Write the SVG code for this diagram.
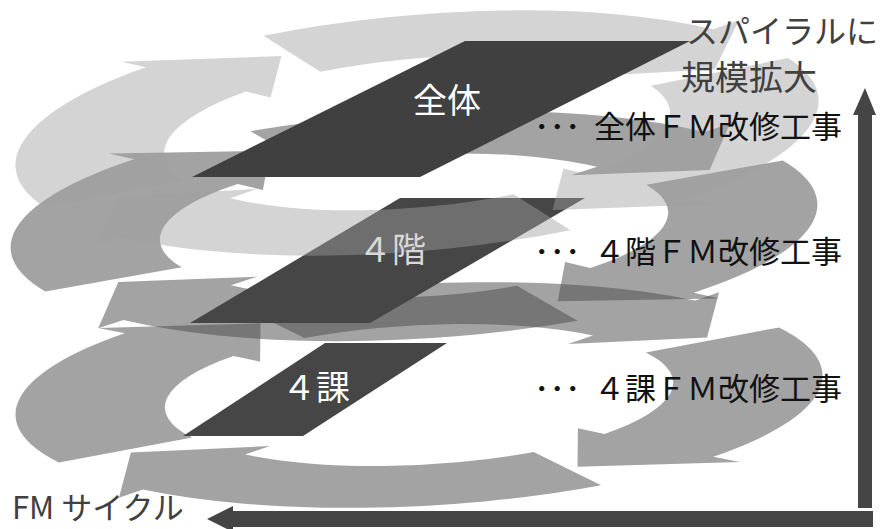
<svg xmlns="http://www.w3.org/2000/svg" xmlns:xlink="http://www.w3.org/1999/xlink" width="884" height="529" viewBox="0 0 884 529">
<style>
  text { font-family: "Noto Sans CJK JP", "Noto Sans", sans-serif; }
  .lt { fill: #a0a0a0; fill-opacity: 0.45; }
  .md { fill: #4b4b4b; fill-opacity: 0.51; }
  .plate { fill: #404040; }
  .plate2 { fill: #464646; }
  .cap { fill: #111111; font-size: 31px; }
  .side { fill: #404040; }
  .axis { fill: #454545; }
</style>
<defs>
  <path id="arw" d="M-92.05,39.07 A100,100 0 0 1 -68.2,-73.14 L-74.34,-79.5 L-34.44,-73.86 L-36.83,-39.49 L-42.97,-46.08 A63,63 0 0 0 -57.99,24.61 Z"/>
</defs>

<g id="ring-middle" transform="translate(414,226) rotate(-3.3) scale(4.04,1.13)">
  <use href="#arw" class="md"/>
  <use href="#arw" class="md" transform="rotate(90)"/>
  <use href="#arw" class="md" transform="rotate(180)"/>
  <use href="#arw" class="md" transform="rotate(270)"/>
</g>
<g id="ring-bottom" transform="translate(419,395) rotate(-3) scale(4.04,1.11)">
  <use href="#arw" class="md" transform="rotate(-3)"/>
  <use href="#arw" class="md" transform="rotate(87)"/>
  <use href="#arw" class="md" transform="rotate(177)"/>
  <use href="#arw" class="md" transform="rotate(267)"/>
</g>

<g id="node-4ka">
  <polygon class="plate2" points="325,343 447,343 303,436 183,436"/>
  <text x="316" y="400" font-size="34" fill="#ffffff" text-anchor="middle">４課</text>
</g>
<g id="node-4kai">
  <polygon class="plate2" points="400,198 585,198 370,323 190,323"/>
</g>

<g id="ring-top" transform="translate(417,133) rotate(-5) scale(4.03,1.18)">
  <use href="#arw" class="lt" transform="rotate(2)"/>
  <use href="#arw" class="lt" transform="rotate(92)"/>
  <use href="#arw" class="lt" transform="rotate(182)"/>
  <use href="#arw" class="lt" transform="rotate(272)"/>
</g>

<g id="node-4kai-label">
  <text x="392" y="262" font-size="34" fill="#d8d8d8" text-anchor="middle">４階</text>
</g>
<g id="node-zentai">
  <polygon class="plate" points="465,41 690,41 420,177 192,177"/>
  <text x="447" y="113" font-size="34" fill="#ffffff" text-anchor="middle">全体</text>
</g>

<g id="captions">
  <text class="cap" y="138"><tspan x="534">･･･</tspan><tspan x="594">全体ＦＭ改修工事</tspan></text>
  <text class="cap" y="263"><tspan x="534">･･･</tspan><tspan x="594">４階ＦＭ改修工事</tspan></text>
  <text class="cap" y="400"><tspan x="534">･･･</tspan><tspan x="594">４課ＦＭ改修工事</tspan></text>
  <text class="side" x="686" y="43" font-size="32">スパイラルに</text>
  <text class="side" x="681" y="90" font-size="34">規模拡大</text>
  <text class="side" x="12" y="519" font-size="31">FM サイクル</text>
</g>

<g id="connectors">
  <polygon class="axis" points="865,88 876,115 872,115 872,508 858,508 858,115 853,115"/>
  <polygon class="axis" points="207,519 233,506 233,511 873,511 873,527 233,527 233,532"/>
</g>
</svg>
